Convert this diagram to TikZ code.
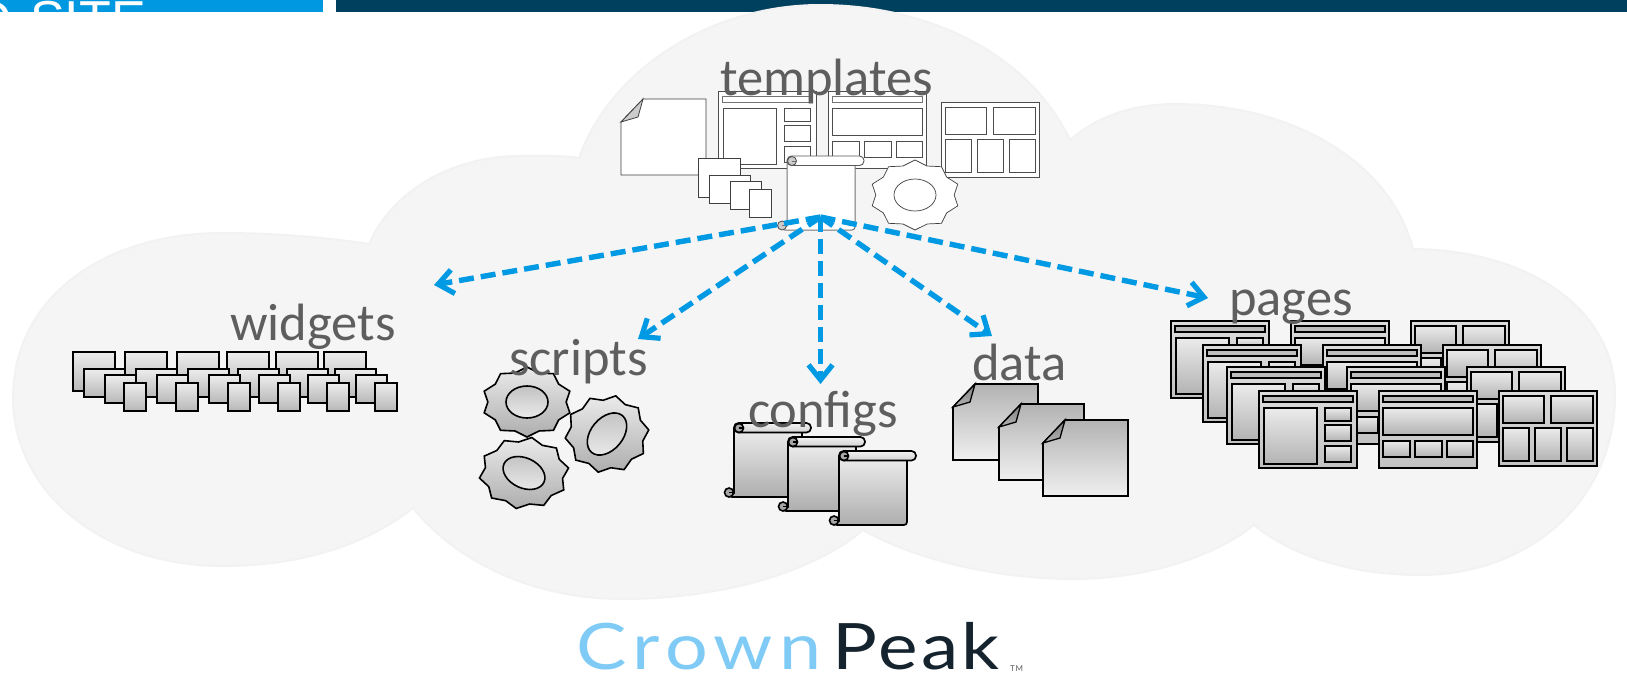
\documentclass[tikz,border=0pt]{standalone}
\usepackage{fontspec}
\setmainfont{Carlito}
\newfontfamily\logofont{Lato}
\newfontfamily\headfont{Liberation Sans}
\usetikzlibrary{arrows.meta}
\definecolor{hdrblue}{HTML}{0098E1}
\definecolor{hdrdark}{HTML}{00405F}
\definecolor{cloudfill}{HTML}{F5F5F5}
\definecolor{cloudedge}{HTML}{F2F2F2}
\definecolor{labelgray}{HTML}{5E5E5E}
\definecolor{arrowblue}{HTML}{0099E3}
\definecolor{crownblue}{HTML}{7FCBF6}
\definecolor{peakdark}{HTML}{14232D}
\tikzset{
  lbl/.style={anchor=base west,inner sep=0pt,text=labelgray,font=\fontsize{52.5}{60}\selectfont},
  flow/.style={draw=arrowblue,line width=5.4pt,dash pattern=on 15pt off 7pt,
    -{Straight Barb[length=15pt,width=24pt,line width=5.2pt]}},
  plainset/.style={
    frame/.style={draw=black!70,line width=.9pt,fill=white},
    inner/.style={draw=black!70,line width=.9pt,fill=white},
    tbar/.style={draw=black!55,line width=.9pt,fill=white},
    sbar/.style={draw=black!65,line width=.9pt,fill=white},
    sheet/.style={draw=black!75,line width=.8pt,fill=white},
    fold/.style={draw=black!75,line width=.8pt,fill=black!20},
    body/.style={draw=black!55,line width=1pt,fill=white},
    curl/.style={draw=black!70,line width=.8pt,fill=black!20},
    wbox/.style={draw=black!75,line width=.8pt,fill=white},
    gearbody/.style={draw=black!75,line width=.7pt,fill=white},
    gearhole/.style={draw=black!75,line width=.7pt,fill=white}
  },
  shadedset/.style={
    frame/.style={draw=black,line width=1.8pt,top color=black!14,bottom color=black!24},
    inner/.style={draw=black,line width=1.8pt,top color=black!8,bottom color=black!30},
    tbar/.style={draw=black,line width=1.6pt,fill=black!26},
    sbar/.style={draw=black,line width=1.7pt,top color=black!5,bottom color=black!18},
    sheet/.style={draw=black,line width=1.6pt,top color=black!30,bottom color=black!6},
    fold/.style={draw=black,line width=1.3pt,top color=black!50,bottom color=black!30},
    body/.style={draw=black,line width=1.7pt,top color=black!7,bottom color=black!32},
    curl/.style={draw=black,line width=1.6pt,fill=black!35},
    wbox/.style={draw=black,line width=1.8pt,top color=black!7,bottom color=black!28},
    gearbody/.style={draw=black,line width=1.6pt,top color=black!8,bottom color=black!32},
    gearhole/.style={draw=black,line width=1.6pt,top color=black!24,bottom color=black!8}
  }
}
% page layouts, frame 98 x 77
\newcommand{\pageA}[2]{\begin{scope}[shift={(#1,#2)}]
  \draw[frame] (0,0) rectangle (98,77);
  \draw[tbar] (4,5) rectangle (94,11);
  \draw[inner] (5,17) rectangle (58,73);
  \draw[inner] (66,17) rectangle (92,30);
  \draw[inner] (66,34) rectangle (92,50);
  \draw[inner] (66,55) rectangle (92,71);
\end{scope}}
\newcommand{\pageB}[2]{\begin{scope}[shift={(#1,#2)}]
  \draw[frame] (0,0) rectangle (98,77);
  \draw[tbar] (4,5) rectangle (94,11);
  \draw[inner] (4,17) rectangle (94,44);
  \draw[inner] (4,50) rectangle (31,66);
  \draw[inner] (36,50) rectangle (63,66);
  \draw[inner] (68,50) rectangle (94,66);
\end{scope}}
\newcommand{\pageC}[2]{\begin{scope}[shift={(#1,#2)}]
  \draw[frame] (0,0) rectangle (98,75);
  \draw[inner] (4,5) rectangle (45,32);
  \draw[inner] (52,5) rectangle (94,32);
  \draw[inner] (4,37) rectangle (30,70);
  \draw[inner] (36,37) rectangle (62,70);
  \draw[inner] (68,37) rectangle (94,70);
\end{scope}}
\newcommand{\docsheet}[2]{\begin{scope}[shift={(#1,#2)}]
  \draw[sheet] (22,0) -- (85,0) -- (85,76) -- (0,76) -- (0,23) -- cycle;
  \draw[fold] (22,0) -- (0,23) -- (17,18) -- cycle;
\end{scope}}
\newcommand{\scrollsheet}[3]{\begin{scope}[shift={(#1,#2)}]
  \draw[body] (0,5) -- (68,5) -- (68,#3-3) [rounded corners=3pt] -- (68,#3) -- (-5,#3) [sharp corners] -- (0,#3-4) -- cycle;
  \draw[sbar,rounded corners=4.5pt] (0,0) rectangle (77,9.5);
  \draw[curl] (5,5) circle (4.5);
  \draw[curl] (-5,#3-4.5) circle (4.5);
  \draw[body,fill=none] (5,5) -- (9,5);
  \draw[body,fill=none] (-5,#3-4.5) -- (-1,#3-4.5);
\end{scope}}
\newcommand{\wgA}[2]{\draw[wbox] (#1,#2) rectangle ++(42,39);}
\newcommand{\wgB}[2]{\draw[wbox] (#1+11,#2+17) rectangle ++(41,28);}
\newcommand{\wgC}[2]{\draw[wbox] (#1+32,#2+23) rectangle ++(31,28);}
\newcommand{\wgD}[2]{\draw[wbox] (#1+51,#2+31) rectangle ++(22,28);}
% centre x, centre y, radius x, radius y, tooth turn, hole turn, hole a, hole b
\newcommand{\gearwheel}[8]{\begin{scope}[shift={(#1,#2)}]
  \draw[gearbody] ({#3*cos(90+#5)},{#4*sin(90+#5)})
    \foreach \k in {1,...,19}{ -- ({#3*(1-0.13*mod(\k,2))*cos(90+#5+18*\k)},{#4*(1-0.13*mod(\k,2))*sin(90+#5+18*\k)}) } -- cycle;
  \draw[gearhole,rotate=#6] (0,0) ellipse (#7 and #8);
\end{scope}}
\begin{document}
\begin{tikzpicture}[x=1pt,y=-1pt]
\useasboundingbox (0,0) rectangle (1627,678);
% header bands
\fill[hdrblue] (0,0) rectangle (323,11.7);
\fill[hdrdark] (336,0) rectangle (1627,11.7);
\begin{scope}
  \clip (0,0) rectangle (323,11.7);
  \node[anchor=base west,inner sep=0pt,text=white,font=\headfont\fontsize{52}{60}\selectfont] (sitehead) at (-26,37.5) {D\hspace{4pt} SITE};
\end{scope}
% cloud
\path[fill=cloudfill,draw=cloudedge,line width=2pt] (13,398)
  .. controls (13,300) and (100,233) .. (223,233)
  .. controls (280,233) and (330,238) .. (369,244)
  .. controls (395,185) and (460,156) .. (519,156)
  .. controls (540,156) and (560,155) .. (579,158)
  .. controls (610,70) and (710,5) .. (820,5)
  .. controls (930,5) and (1030,55) .. (1070,140)
  .. controls (1095,118) and (1130,104) .. (1176,104)
  .. controls (1290,104) and (1390,160) .. (1413,249)
  .. controls (1530,250) and (1615,310) .. (1615,395)
  .. controls (1615,500) and (1530,575) .. (1420,575)
  .. controls (1350,575) and (1290,555) .. (1254,525)
  .. controls (1210,560) and (1140,579) .. (1073,579)
  .. controls (1010,579) and (925,565) .. (863,530)
  .. controls (810,575) and (715,599) .. (623,599)
  .. controls (530,599) and (455,560) .. (413,508)
  .. controls (360,550) and (290,566) .. (223,566)
  .. controls (100,566) and (13,490) .. (13,398) -- cycle;
% template group
\begin{scope}[plainset]
  \docsheet{621}{99}
  \pageA{718}{91}
  \pageB{828}{91}
  \pageC{941}{102}
  \wgA{698}{158}\wgB{698}{158}\wgC{698}{158}\wgD{698}{158}
  \scrollsheet{787}{156}{74}
  \gearwheel{915}{195}{45}{35}{0}{0}{21}{16}
\end{scope}
% widgets
\begin{scope}[shadedset]
  \foreach \p in {73,125,177,227,276,324}{\wgA{\p}{352}}
  \foreach \p in {73,125,177,227,276,324}{\wgB{\p}{352}}
  \foreach \p in {73,125,177,227,276,324}{\wgC{\p}{352}}
  \foreach \p in {73,125,177,227,276,324}{\wgD{\p}{352}}
  % gears
  \gearwheel{527}{402}{45}{35}{0}{0}{21}{16}
  \gearwheel{607}{434}{42}{39}{12}{50}{24}{16}
  \gearwheel{524}{473}{45}{36}{10}{-25}{22}{15}
  % scrolls
  \scrollsheet{734}{423}{74}
  \scrollsheet{788}{437}{74}
  \scrollsheet{839}{451}{74}
  % data
  \docsheet{953}{384}
  \docsheet{999}{404}
  \docsheet{1043}{420}
  % pages
  \pageA{1171}{321}\pageB{1291}{321}\pageC{1411}{321}
  \pageA{1203}{345}\pageB{1323}{345}\pageC{1443}{345}
  \pageA{1227}{367}\pageB{1347}{367}\pageC{1467}{367}
  \pageA{1259}{391}\pageB{1379}{391}\pageC{1499}{391}
\end{scope}
% labels
\node[lbl] (templates) at (720,95) {templates};
\node[lbl] (widgets) at (230,340) {widgets};
\node[lbl] (scripts) at (509,375) {scripts};
\node[lbl] (configs) at (748,427) {configs};
\node[lbl] (data) at (972,380) {data};
\node[lbl] (pages) at (1229,315) {pages};
% connectors
\coordinate (src) at (820.5,217);
\coordinate (towidgets) at (434,285);
\coordinate (toscripts) at (638,339);
\coordinate (toconfigs) at (820.5,384);
\coordinate (todata) at (992,336);
\coordinate (topages) at (1208,298);
\draw[flow] (src) -- (towidgets);
\draw[flow] (src) -- (toscripts);
\draw[flow] (src) -- (toconfigs);
\draw[flow] (src) -- (todata);
\draw[flow] (src) -- (topages);
% logo
\node[anchor=base west,inner sep=0pt,text=crownblue,font=\logofont\fontsize{64}{66}\selectfont\addfontfeature{FakeStretch=1.18,LetterSpace=10}] (crown) at (576,669) {Crown};
\node[anchor=base west,inner sep=0pt,text=peakdark,font=\logofont\fontsize{64}{66}\selectfont\addfontfeature{FakeStretch=1.17,LetterSpace=5}] (peak) at (832,669) {Peak};
\node[anchor=base west,inner sep=0pt,text=black!65,font=\logofont\fontsize{8}{10}\selectfont\addfontfeature{LetterSpace=10}] (tm) at (1010,671) {TM};
\end{tikzpicture}
\end{document}
